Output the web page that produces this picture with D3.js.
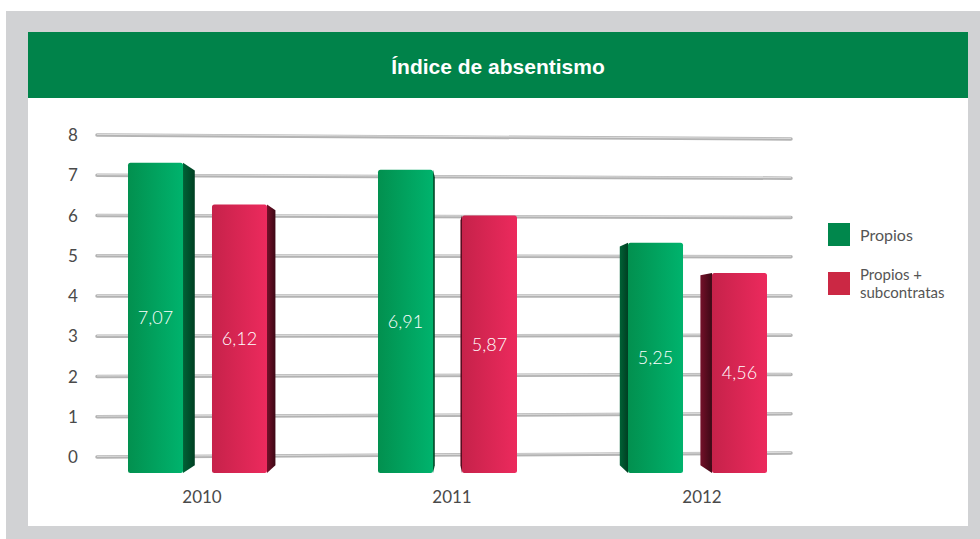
<!DOCTYPE html>
<html>
<head>
<meta charset="utf-8">
<script src="https://cdn.jsdelivr.net/npm/d3@7"></script>
<style>
  body { margin: 0; background: #fff; }
  svg { display: block; font-family: "Lato", "Liberation Sans", sans-serif; }
</style>
</head>
<body>
<svg class="chart" width="980" height="539"></svg>
<script>
// data
var years = ["2010", "2011", "2012"];
var seriesNames = ["Propios", "Propios + subcontratas"];
var propios = [7.07, 6.91, 5.25];
var propiosSub = [6.12, 5.87, 4.56];
var yTicks = [0, 1, 2, 3, 4, 5, 6, 7, 8];
var title = "Índice de absentismo";

var svg = d3.select("svg.chart"),
    width = +svg.attr("width"),
    height = +svg.attr("height");

var rows = years.map(function(y, i) {
  return { year: y, values: [propios[i], propiosSub[i]] };
});

// frame: grey card, green header, white panel
svg.append("rect").attr("x", 6).attr("y", 11).attr("width", width - 6).attr("height", height - 11)
    .attr("fill", "#d1d2d4");
svg.append("rect").attr("x", 28).attr("y", 98).attr("width", 940).attr("height", 428)
    .attr("fill", "#fff");
svg.append("rect").attr("x", 28).attr("y", 32).attr("width", 940).attr("height", 66)
    .attr("fill", "#00834a");
svg.append("text")
    .attr("x", 498).attr("y", 74)
    .attr("text-anchor", "middle")
    .attr("fill", "#fff")
    .style("font-family", "'Liberation Sans', sans-serif")
    .style("font-weight", "bold")
    .style("font-size", "21px")
    .text(title);

// gradients
var defs = svg.append("defs");
function grad(id, c0, c1) {
  var g = defs.append("linearGradient").attr("id", id)
      .attr("x1", "0%").attr("x2", "100%").attr("y1", "0%").attr("y2", "0%");
  g.append("stop").attr("offset", "0%").attr("stop-color", c0);
  g.append("stop").attr("offset", "100%").attr("stop-color", c1);
}
grad("front0", "#02904f", "#00b36d");
grad("front1", "#c6224a", "#ec2a5d");
grad("side0", "#006236", "#003f22");
grad("side1", "#741029", "#3d0815");

// scales: the grid is drawn in slight perspective, bars sit on their own base
var x0 = d3.scaleBand().domain(years).range([75, 825]);
var x1 = d3.scaleBand().domain(seriesNames).range([53, 192]).paddingInner(0.345);
var yLeft = d3.scaleLinear().domain([0, 8]).range([457, 135]);
var yRight = d3.scaleLinear().domain([0, 8]).range([453, 139]);
var yBar = d3.scaleLinear().domain([0, 8]).range([473, 122]);

var gridX0 = 97, gridX1 = 791;

// grid lines
var grid = svg.append("g").attr("class", "grid");
grid.selectAll("line.shade")
    .data(yTicks)
  .enter().append("line")
    .attr("class", "shade")
    .attr("x1", gridX0).attr("x2", gridX1)
    .attr("y1", function(d) { return yLeft(d); })
    .attr("y2", function(d) { return yRight(d); })
    .attr("stroke", "#b3b3b3")
    .attr("stroke-width", 3.5)
    .attr("stroke-linecap", "round");
grid.selectAll("line.hi")
    .data(yTicks)
  .enter().append("line")
    .attr("class", "hi")
    .attr("x1", gridX0).attr("x2", gridX1)
    .attr("y1", function(d) { return yLeft(d) - 0.6; })
    .attr("y2", function(d) { return yRight(d) - 0.6; })
    .attr("stroke", "#dcdcdc")
    .attr("stroke-width", 1);

// y tick labels
svg.append("g").selectAll("text")
    .data(yTicks)
  .enter().append("text")
    .attr("x", 73)
    .attr("y", function(d) { return yLeft(d); })
    .attr("dy", "0.36em")
    .attr("text-anchor", "middle")
    .attr("fill", "#4a4a4a")
    .style("font-size", "17px")
    .text(function(d) { return d; });

// bars: front face from x1, a dark side face toward the chart centre
var vanishX = 450, vanishY = 318;
var group = svg.append("g").selectAll("g")
    .data(rows)
  .enter().append("g")
    .attr("transform", function(d) { return "translate(" + x0(d.year) + ",0)"; });

var bar = group.selectAll("g.bar")
    .data(function(d) {
      return d.values.map(function(v, i) {
        var fx = x1(seriesNames[i]);
        var cx = x0(d.year) + fx + x1.bandwidth() / 2;
        return { value: v, idx: i, fx: fx, sw: Math.abs(cx - vanishX) * 0.04, sideRight: cx < vanishX };
      });
    })
  .enter().append("g").attr("class", "bar");

bar.each(function(d) {
  var g = d3.select(this);
  var top = yBar(d.value), bot = yBar(0);
  var fw = x1.bandwidth();
  var k = 0.05;
  var ex = d.sideRight ? d.fx + fw : d.fx;
  var sx = d.sideRight ? ex + d.sw : ex - d.sw;
  if (d.sw > 1) {
    g.append("path")
        .attr("d", "M" + ex + "," + top +
                   "L" + sx + "," + (top + k * (vanishY - top)) +
                   "L" + sx + "," + (bot + k * (vanishY - bot)) +
                   "L" + ex + "," + bot + "Z")
        .attr("fill", "url(#side" + d.idx + ")");
  }
  g.append("rect")
      .attr("x", d.fx).attr("y", top)
      .attr("width", fw).attr("height", bot - top)
      .attr("rx", 2.5)
      .attr("fill", "url(#front" + d.idx + ")");
  g.append("text")
      .attr("x", d.fx + fw / 2)
      .attr("y", (top + bot) / 2)
      .attr("dy", "0.36em")
      .attr("text-anchor", "middle")
      .attr("fill", "#fff")
      .style("font-size", "18px")
      .style("font-weight", 300)
      .text(d3.format(".2f")(d.value).replace(".", ","));
});

// year labels
svg.append("g").selectAll("text")
    .data(years)
  .enter().append("text")
    .attr("x", function(d) { return x0(d) + x0.bandwidth() / 2 + 2; })
    .attr("y", 503)
    .attr("text-anchor", "middle")
    .attr("fill", "#4a4a4a")
    .style("font-size", "17px")
    .text(function(d) { return d; });

// legend
var legend = svg.append("g").attr("transform", "translate(828,223)");
var item = legend.selectAll("g")
    .data(seriesNames)
  .enter().append("g")
    .attr("transform", function(d, i) { return "translate(0," + i * 49 + ")"; });
item.append("rect")
    .attr("width", 22).attr("height", 23)
    .attr("fill", function(d, i) { return i === 0 ? "#00874c" : "#cb2844"; });
item.each(function(d, i) {
  var parts = i === 0 ? [d] : ["Propios +", "subcontratas"];
  var g = d3.select(this);
  parts.forEach(function(p, j) {
    g.append("text")
        .attr("x", 32)
        .attr("y", i === 0 ? 18 : 8 + j * 18)
        .attr("fill", "#555")
        .style("font-size", i === 0 ? "16px" : "15px")
        .text(p);
  });
});
</script>
</body>
</html>
